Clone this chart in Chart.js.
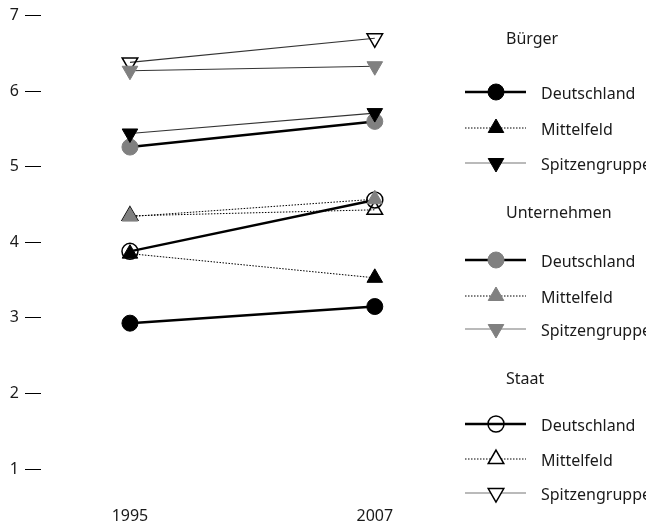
<!DOCTYPE html>
<html>
<head>
<meta charset="utf-8">
<script src="https://cdn.jsdelivr.net/npm/chart.js@4"></script>
<style>
  html, body { margin: 0; padding: 0; background: #fff; }
  #chart { display: block; }
</style>
</head>
<body>
<canvas id="chart" width="646" height="525"></canvas>
<script>
// data
var years = [1995, 2007];
var yTicks = [1, 2, 3, 4, 5, 6, 7];
var groups = ["Bürger", "Unternehmen", "Staat"];
var seriesNames = ["Deutschland", "Mittelfeld", "Spitzengruppe"];

var buergerDeutschland = [2.93, 3.15];
var buergerMittelfeld = [3.85, 3.53];
var buergerSpitzengruppe = [5.44, 5.71];
var unternehmenDeutschland = [5.26, 5.60];
var unternehmenMittelfeld = [4.34, 4.57];
var unternehmenSpitzengruppe = [6.27, 6.33];
var staatDeutschland = [3.88, 4.56];
var staatMittelfeld = [4.35, 4.43];
var staatSpitzengruppe = [6.38, 6.70];

var FONT = "'Noto Sans', 'Open Sans', sans-serif";
var GREY = "#808080";
var NONE = "rgba(0,0,0,0)";

function pts(arr) {
	return years.map(function (y, i) { return { x: y, y: arr[i] }; });
}

// line style per series, marker fill per group
var lineStyles = [
	{ borderColor: "#000", borderWidth: 2.5, borderDash: [] },
	{ borderColor: "#000", borderWidth: 1, borderDash: [1.5, 1.5] },
	{ borderColor: "#333", borderWidth: 1.2, borderDash: [] },
];
var markerFill = ["#000", GREY, NONE];
var markerBorder = ["#000", GREY, "#000"];
var markerShapes = [
	{ pointStyle: "circle", rotation: 0, radius: 8 },
	{ pointStyle: "triangle", rotation: 0, radius: 9 },
	{ pointStyle: "triangle", rotation: 180, radius: 9 },
];

var values = [
	[buergerDeutschland, buergerMittelfeld, buergerSpitzengruppe],
	[unternehmenDeutschland, unternehmenMittelfeld, unternehmenSpitzengruppe],
	[staatDeutschland, staatMittelfeld, staatSpitzengruppe],
];

var datasets = [];
for (var g = 0; g < groups.length; g++) {
	for (var s = 0; s < seriesNames.length; s++) {
		datasets.push({
			label: groups[g] + " " + seriesNames[s],
			data: pts(values[g][s]),
			group: g,
			series: s,
			borderColor: lineStyles[s].borderColor,
			borderWidth: lineStyles[s].borderWidth,
			borderDash: lineStyles[s].borderDash,
			pointStyle: markerShapes[s].pointStyle,
			pointRotation: markerShapes[s].rotation,
			pointRadius: markerShapes[s].radius,
			pointHoverRadius: markerShapes[s].radius,
			pointBackgroundColor: markerFill[g],
			pointBorderColor: markerBorder[g],
			pointBorderWidth: g === 2 ? 1.5 : 1,
			fill: false,
			tension: 0,
			clip: false,
		});
	}
}

// grouped legend on the right
var headerY = [38, 212, 378];
var rowY = [[92, 128, 163], [260, 296, 329], [424, 459, 493]];

var groupLegend = {
	id: "groupLegend",
	afterDraw: function (chart) {
		var ctx = chart.ctx;
		ctx.save();
		ctx.font = "16px " + FONT;
		ctx.fillStyle = "#1a1a1a";
		ctx.textBaseline = "middle";
		ctx.textAlign = "left";
		chart.data.datasets.forEach(function (ds) {
			var y = rowY[ds.group][ds.series];
			if (ds.series === 0) {
				ctx.fillStyle = "#1a1a1a";
				ctx.fillText(groups[ds.group], 506, headerY[ds.group] + 1);
			}
			ctx.beginPath();
			ctx.setLineDash(ds.borderDash);
			ctx.strokeStyle = ds.series === 2 ? "#777" : ds.borderColor;
			ctx.lineWidth = ds.borderWidth;
			ctx.moveTo(465, y);
			ctx.lineTo(526, y);
			ctx.stroke();
			ctx.setLineDash([]);
			// open triangles in the key hide the line, the open circle does not
			var fill = ds.pointBackgroundColor;
			if (ds.group === 2 && ds.series > 0) fill = "#fff";
			ctx.fillStyle = fill;
			ctx.strokeStyle = ds.pointBorderColor;
			ctx.lineWidth = ds.pointBorderWidth;
			Chart.helpers.drawPoint(ctx, {
				pointStyle: ds.pointStyle,
				rotation: ds.pointRotation,
				radius: ds.pointRadius,
				borderWidth: ds.pointBorderWidth,
			}, 496, y);
			ctx.fillStyle = "#1a1a1a";
			ctx.fillText(seriesNames[ds.series], 541, y + 2);
		});
		ctx.restore();
	},
};

var ctx = document.getElementById("chart").getContext("2d");
var myChart = new Chart(ctx, {
	type: "line",
	data: { datasets: datasets },
	plugins: [groupLegend],
	options: {
		responsive: false,
		animation: false,
		devicePixelRatio: 1,
		layout: { padding: { top: 15, right: 210, left: 0, bottom: 0 } },
		plugins: { legend: { display: false }, tooltip: { enabled: false } },
		scales: {
			x: {
				type: "linear",
				min: 1990.64,
				max: 2010,
				afterBuildTicks: function (scale) {
					scale.ticks = years.map(function (v) { return { value: v }; });
				},
				afterFit: function (scale) { scale.height = 56; },
				grid: { display: false },
				border: { display: false },
				ticks: {
					padding: 30,
					color: "#1a1a1a",
					font: { size: 16, family: FONT },
					callback: function (v) { return String(v); },
				},
			},
			y: {
				min: 1,
				max: 7,
				afterBuildTicks: function (scale) {
					scale.ticks = yTicks.map(function (v) { return { value: v }; });
				},
				afterFit: function (scale) { scale.width = 41; },
				grid: { drawOnChartArea: false, tickLength: 16, color: "#000", lineWidth: 1 },
				border: { display: false },
				ticks: {
					padding: 6,
					color: "#1a1a1a",
					font: { size: 16, family: FONT },
				},
			},
		},
	},
});
</script>
</body>
</html>
